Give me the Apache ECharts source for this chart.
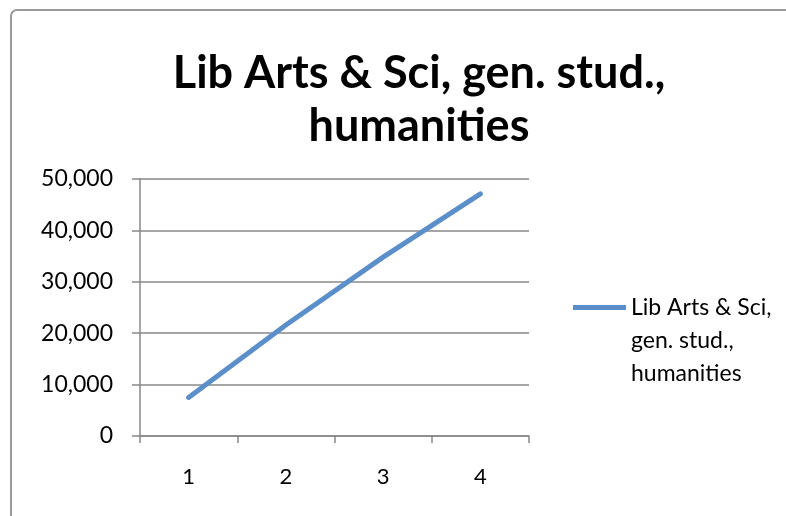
<!DOCTYPE html>
<html>
<head>
<meta charset="utf-8">
<script src="https://cdn.jsdelivr.net/npm/echarts@6/dist/echarts.min.js"></script>
<style>html,body{margin:0;padding:0;background:#fff;}#c{width:786px;height:516px;}</style>
</head>
<body>
<div id="c"></div>
<script>
const titleText = 'Lib Arts & Sci, gen. stud.,\nhumanities';
const seriesName = 'Lib Arts & Sci, gen. stud., humanities';
const legendLines = ['Lib Arts & Sci,', 'gen. stud.,', 'humanities'];
const categories = ['1', '2', '3', '4'];
const values = [7500, 21600, 34800, 47100];
const yTicks = [0, 10000, 20000, 30000, 40000, 50000];

const FONT = 'Lato';
const chart = echarts.init(document.getElementById('c'));
chart.setOption({
  animation: false,
  backgroundColor: '#fff',
  title: {
    text: titleText,
    left: 414, top: 42, textAlign: 'center',
    textStyle: { fontFamily: FONT, fontWeight: 'bold', fontSize: 45, lineHeight: 53, color: '#000' }
  },
  graphic: [{
    type: 'rect', shape: { x: 11, y: 10, width: 800, height: 530, r: 6 },
    style: { fill: 'none', stroke: '#999', lineWidth: 2 }, silent: true
  }],
  legend: {
    left: 568, top: 220, orient: 'vertical',
    itemWidth: 53, itemHeight: 5, itemGap: 0,
    data: [{ name: seriesName, icon: 'path://M0,0 L53,0 L53,5 L0,5 Z' }],
    formatter: () => '\n\n' + legendLines.join('\n'),
    textStyle: { fontFamily: FONT, fontSize: 23, lineHeight: 33, color: '#000' }
  },
  grid: { left: 140, right: 257, top: 179, bottom: 80 },
  xAxis: {
    type: 'category', data: categories, boundaryGap: true,
    axisLine: { lineStyle: { color: '#888', width: 1.5 } },
    axisTick: { show: true, length: 7, lineStyle: { color: '#888', width: 1.5 } },
    axisLabel: { fontFamily: FONT, fontSize: 22, color: '#000', margin: 30 }
  },
  yAxis: {
    type: 'value', min: yTicks[0], max: yTicks[yTicks.length - 1], interval: 10000,
    axisLine: { show: true, lineStyle: { color: '#888', width: 1.5 } },
    axisTick: { show: true, inside: false, length: 8, lineStyle: { color: '#888', width: 1.5 } },
    splitLine: { lineStyle: { color: '#888', width: 1.5 } },
    axisLabel: {
      fontFamily: FONT, fontSize: 23, color: '#000', margin: 27,
      formatter: v => v.toLocaleString('en-US')
    }
  },
  series: [{
    name: seriesName, type: 'line', data: values,
    showSymbol: false, symbol: 'none',
    lineStyle: { color: '#5B8FC9', width: 5, cap: 'round', join: 'round' },
    itemStyle: { color: '#5B8FC9' }
  }]
});
</script>
</body>
</html>
